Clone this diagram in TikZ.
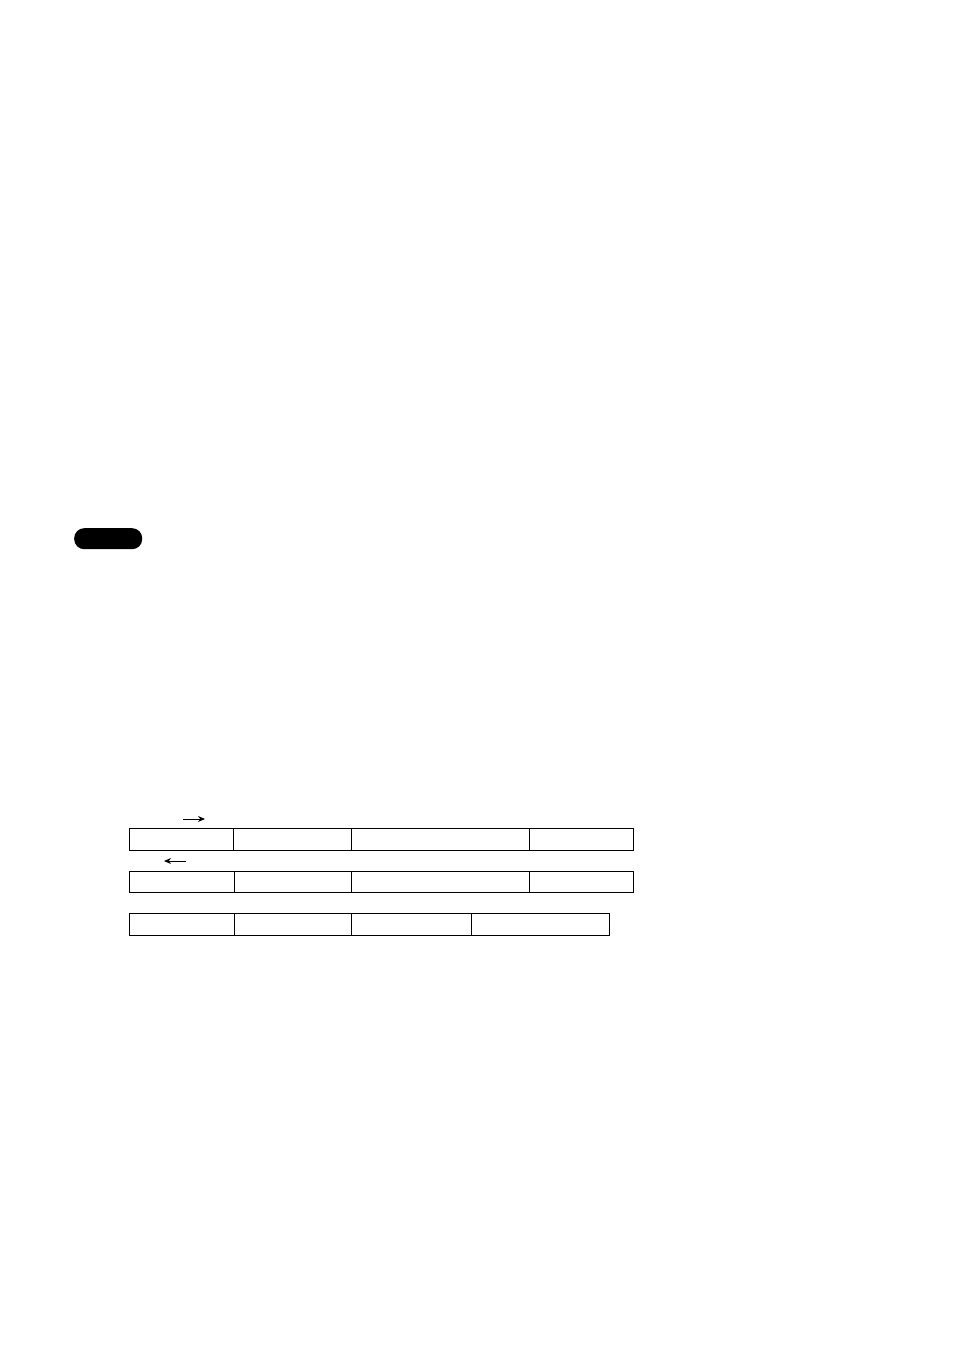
\documentclass[tikz,border=0pt]{standalone}
\usetikzlibrary{arrows.meta}
\begin{document}
\begin{tikzpicture}[x=1pt,y=-1pt,
  cell/.style={draw=black,line width=0.9pt,inner sep=0pt,outer sep=0pt,anchor=north west},
  pill/.style={fill=black,rounded corners=10pt,inner sep=0pt,anchor=north west,minimum width=68pt,minimum height=21pt},
  dirarrow/.style={line width=0.9pt,-{Stealth[length=7pt,width=6pt]}}]
\useasboundingbox (0,0) rectangle (954,1348);
\node[pill] (badge) at (74,528) {};
% row 1
\node[cell,minimum width=104pt,minimum height=22pt] (a1) at (129.5,828.5) {};
\node[cell,minimum width=118pt,minimum height=22pt] (a2) at (233.5,828.5) {};
\node[cell,minimum width=178pt,minimum height=22pt] (a3) at (351.5,828.5) {};
\node[cell,minimum width=104pt,minimum height=22pt] (a4) at (529.5,828.5) {};
% row 2
\node[cell,minimum width=105pt,minimum height=21pt] (b1) at (129.5,871) {};
\node[cell,minimum width=117pt,minimum height=21pt] (b2) at (234.5,871) {};
\node[cell,minimum width=178pt,minimum height=21pt] (b3) at (351.5,871) {};
\node[cell,minimum width=104pt,minimum height=21pt] (b4) at (529.5,871) {};
% row 3
\node[cell,minimum width=105pt,minimum height=22pt] (c1) at (129.5,913.5) {};
\node[cell,minimum width=117pt,minimum height=22pt] (c2) at (234.5,913.5) {};
\node[cell,minimum width=120pt,minimum height=22pt] (c3) at (351.5,913.5) {};
\node[cell,minimum width=138pt,minimum height=22pt] (c4) at (471.5,913.5) {};
% direction arrows
\coordinate (r0) at (183,819);
\coordinate (r1) at (205,819);
\coordinate (l0) at (186,861);
\coordinate (l1) at (164,861);
\draw[dirarrow] (r0) -- (r1);
\draw[dirarrow] (l0) -- (l1);
\end{tikzpicture}
\end{document}
